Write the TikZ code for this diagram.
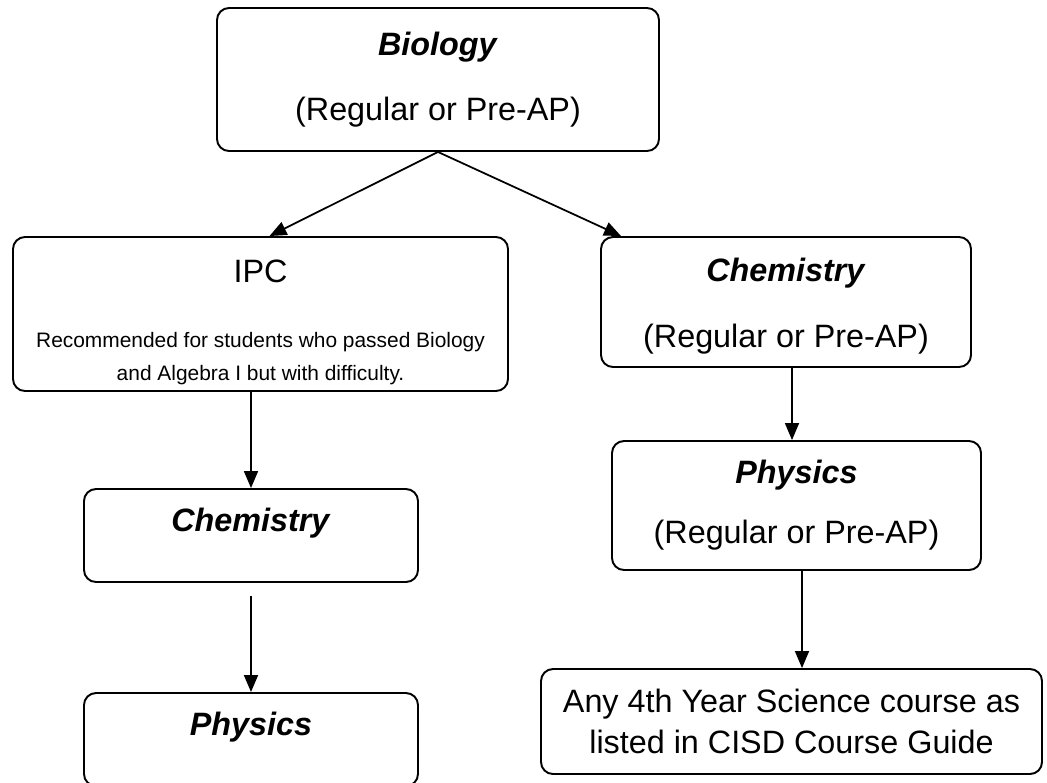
\documentclass[tikz,border=0pt]{standalone}
\usepackage{fontspec}
\setmainfont{Liberation Sans}
\usetikzlibrary{arrows.meta}

\tikzset{
    course/.style={draw, line width=1.1pt, rounded corners=0.24cm, align=center,
        font=\fontsize{18.4}{22}\selectfont, inner sep=0pt},
    toponly/.style={text height=0.46cm, text depth=0.64cm},
    note/.style={font=\fontsize{11.9}{14}\selectfont},
}
\newcommand{\subj}[1]{\textbf{\textit{#1}}}
\newcommand{\bigname}[1]{{\fontsize{18.4}{22}\selectfont #1}}

\begin{document}
\begin{tikzpicture}[>={Triangle[length=0.34cm, width=0.28cm]}]
        \useasboundingbox (0,0) rectangle (20.94,-15.64);

        % boxes
        \node[course, minimum width=8.84cm, minimum height=2.86cm] (bio) at (8.76,-1.59)
            {\subj{Biology}\\[14.9pt] (Regular or Pre-AP)};
        \node[course, note, minimum width=9.90cm, minimum height=3.08cm] (ipc) at (5.21,-6.28)
            {\bigname{\rule{0pt}{0.79cm}IPC}\\[23pt] Recommended for students who passed Biology\\[4.7pt] and Algebra I but with difficulty.};
        \node[course, minimum width=7.40cm, minimum height=2.60cm] (chemR) at (15.72,-6.04)
            {\rule{0pt}{0.63cm}\subj{Chemistry}\\[15.4pt] (Regular or Pre-AP)};
        \node[course, minimum width=7.38cm, minimum height=2.58cm] (physR) at (15.93,-10.11)
            {\subj{Physics}\\[12pt] (Regular or Pre-AP)};
        \node[course, toponly, minimum width=6.68cm, minimum height=1.86cm] (chemL) at (5.02,-10.71)
            {\subj{Chemistry}};
        \node[course, toponly, minimum width=6.68cm, minimum height=1.86cm] (physL) at (5.02,-14.79)
            {\subj{Physics}};
        \node[course, minimum width=10.02cm, minimum height=2.10cm] (any) at (15.83,-14.43)
            {Any 4th Year Science course as\\[1.8pt] listed in CISD Course Guide};

        % arrows
        \draw[->, line width=1pt] (bio.south) -- ([xshift=0.18cm]ipc.north);
        \draw[->, line width=1pt] (bio.south) -- ([xshift=0.42cm]chemR.north west);
        \draw[->, line width=1pt] (ipc.south -| chemL.north) -- (chemL.north);
        \draw[->, line width=1pt] ([yshift=-0.26cm]chemL.south) -- (physL.north);
        \draw[->, line width=1pt] ([xshift=0.12cm]chemR.south) -- ([xshift=0.12cm]chemR.south |- physR.north);
        \draw[->, line width=1pt] ([xshift=0.11cm]physR.south) -- ([xshift=0.11cm]physR.south |- any.north);
    \end{tikzpicture}
\end{document}
